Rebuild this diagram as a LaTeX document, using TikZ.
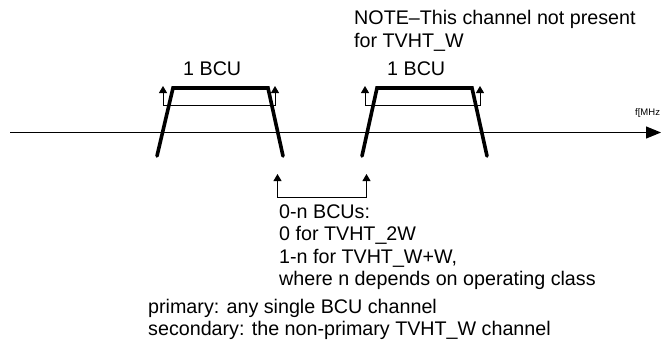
\documentclass[tikz,border=0pt]{standalone}
\usepackage{fontspec}
\setmainfont{Liberation Sans}
\usetikzlibrary{arrows.meta}
\begin{document}
\begin{tikzpicture}[x=1pt,y=-1pt,
  txt/.style={font=\fontsize{19.7}{22.5}\selectfont, inner sep=0pt, anchor=base west},
  small/.style={font=\fontsize{9.5}{11}\selectfont, inner sep=0pt, anchor=base west},
  band/.style={line width=3.6pt, line cap=round, line join=miter},
  brk/.style={line width=1pt, {Triangle[length=7pt,width=8pt]}-{Triangle[length=7pt,width=8pt]}},
  axis/.style={line width=1.2pt, -{Triangle[length=15pt,width=12pt]}}
]
\useasboundingbox (0,0) rectangle (661,345);
% frequency axis
\coordinate (ax0) at (10,132.5);
\coordinate (ax1) at (661,132.5);
\draw[axis] (ax0) -- (ax1);
\node[small] (fmhz) at (635,115.5) {f[MHz};
% left channel
\coordinate (l1) at (157,156);
\coordinate (l2) at (173,88);
\coordinate (l3) at (268,88);
\coordinate (l4) at (283,156);
\draw[band] (l1) -- (l2) -- (l3) -- (l4);
% right channel
\coordinate (r1) at (362,156);
\coordinate (r2) at (377,88);
\coordinate (r3) at (472,88);
\coordinate (r4) at (487,156);
\draw[band] (r1) -- (r2) -- (r3) -- (r4);
% brackets for 1 BCU
\coordinate (lbA) at (163,86);
\coordinate (lbB) at (163,105);
\coordinate (lbC) at (275,105);
\coordinate (lbD) at (275,86);
\draw[brk] (lbA) -- (lbB) -- (lbC) -- (lbD);
\coordinate (rbA) at (365,86);
\coordinate (rbB) at (365,105);
\coordinate (rbC) at (480,105);
\coordinate (rbD) at (480,86);
\draw[brk] (rbA) -- (rbB) -- (rbC) -- (rbD);
% gap bracket
\coordinate (gA) at (277.5,174);
\coordinate (gB) at (277.5,197);
\coordinate (gC) at (366.5,197);
\coordinate (gD) at (366.5,174);
\draw[brk] (gA) -- (gB) -- (gC) -- (gD);
% labels
\node[txt] (bcuL) at (183,76) {1 BCU};
\node[txt] (bcuR) at (387,76) {1 BCU};
\node[txt] (note1) at (354,25) {NOTE–This channel not present};
\node[txt] (note2) at (354,47.5) {for TVHT\_W};
\node[txt] (gap1) at (279,218.3) {0-n BCUs:};
\node[txt] (gap2) at (279,240.8) {0 for TVHT\_2W};
\node[txt] (gap3) at (279,263.3) {1-n for TVHT\_W+W,};
\node[txt] (gap4) at (279,285.8) {where n depends on operating class};
\node[txt] (prim) at (148,313) {primary: any single BCU channel};
\node[txt] (sec) at (148,335.5) {secondary: the non-primary TVHT\_W channel};
\end{tikzpicture}
\end{document}
